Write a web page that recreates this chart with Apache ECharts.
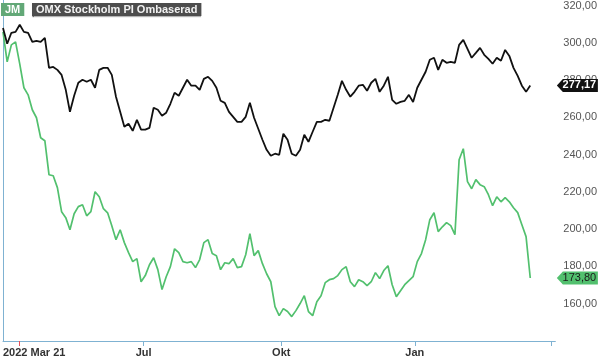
<!DOCTYPE html>
<html>
<head>
<meta charset="utf-8">
<script src="https://cdn.jsdelivr.net/npm/echarts@6/dist/echarts.min.js"></script>
<style>
  html, body { margin: 0; padding: 0; background: #fff; }
  #main { width: 600px; height: 359px; }
</style>
</head>
<body>
<div id="main"></div>
<script>
// every point is two trading days, starting 2022-03-21
var omx = [308.0, 299.5, 305.4, 305.9, 309.7, 305.9, 305.4, 300.5, 301.1, 300.5,
  302.7, 286.6, 287.1, 285.5, 282.8, 274.8, 263.0, 271.6, 278.6, 280.2,
  279.1, 280.2, 275.9, 285.5, 286.6, 286.6, 282.8, 271.1, 263.0, 255.0,
  256.6, 252.8, 258.7, 253.4, 253.4, 254.4, 265.2, 264.1, 260.9, 262.5,
  267.3, 273.2, 271.6, 275.9, 280.2, 277.0, 277.0, 274.8, 280.7, 281.8,
  279.6, 275.9, 268.9, 267.8, 263.0, 260.3, 257.6, 257.6, 260.3, 267.8,
  259.8, 253.9, 248.0, 242.6, 239.4, 240.5, 239.9, 251.2, 248.0, 240.5,
  239.4, 242.6, 250.7, 246.9, 252.3, 257.6, 257.6, 258.7, 258.2, 265.2,
  272.1, 279.6, 274.8, 271.1, 273.7, 277.0, 277.5, 274.3, 278.6, 280.7,
  273.7, 277.0, 281.8, 269.4, 267.3, 268.3, 268.9, 272.1, 268.3, 275.9,
  280.2, 284.5, 290.9, 292.0, 285.5, 290.9, 289.3, 289.8, 289.3, 298.9,
  301.6, 296.8, 292.0, 294.6, 297.3, 293.6, 291.4, 288.8, 292.0, 290.4,
  296.2, 293.0, 286.6, 282.3, 277.0, 273.7, 277.17];

var jm = [305.9, 289.8, 298.9, 300.5, 288.7, 275.9, 272.1, 264.1, 259.8, 249.1,
  247.5, 229.2, 228.7, 222.3, 209.4, 206.2, 199.7, 208.3, 212.1, 213.1,
  207.2, 209.4, 220.1, 217.4, 211.0, 208.8, 201.9, 194.4, 199.7, 192.8,
  187.4, 182.6, 184.2, 171.8, 175.1, 180.9, 184.7, 178.3, 167.6, 174.5,
  179.9, 189.5, 187.4, 182.6, 182.0, 182.6, 179.4, 183.7, 192.8, 194.4,
  186.9, 185.8, 178.3, 182.0, 181.5, 184.2, 179.4, 179.9, 186.3, 197.6,
  185.8, 188.5, 181.5, 176.1, 171.8, 158.4, 153.6, 157.4, 155.8, 153.1,
  156.3, 160.1, 164.3, 155.8, 153.6, 161.1, 164.3, 171.3, 172.9, 173.5,
  175.1, 178.3, 179.9, 171.8, 169.2, 172.9, 171.8, 169.7, 171.8, 176.7,
  173.5, 177.8, 180.4, 170.2, 163.8, 167.0, 170.2, 172.4, 174.5, 182.6,
  186.9, 194.4, 205.1, 208.8, 198.7, 201.3, 203.5, 201.9, 197.1, 237.3,
  243.2, 225.5, 221.7, 226.6, 223.9, 222.8, 218.5, 212.6, 217.4, 214.7,
  216.9, 214.7, 211.5, 208.9, 202.4, 196.0, 173.80];

// x axis ticks (in two-day steps) and their labels
var tickPos = [33.6, 66.5, 98.4, 131.1];
var labelPos = [33.6, 66.5, 98.4];
var labelText = ['Jul', 'Okt', 'Jan'];
var startLabel = '2022 Mar 21';
var startTick = [3.8];
var yLabels = [160, 180, 200, 220, 240, 260, 280, 300, 320];

var xMax = 132;

function fmt(v) {
  return v.toFixed(2).replace('.', ',');
}

function toPairs(arr) {
  var out = [];
  for (var i = 0; i < arr.length; i++) {
    out.push([i, arr[i]]);
  }
  return out;
}

// price tag on the right axis
function tag(value, bg, color, bold) {
  return {
    symbol: 'path://M0,6.5 L6,0 L41,0 L41,13 L6,13 Z',
    symbolSize: [41, 13],
    symbolOffset: [22, 0],
    silent: true,
    data: [{
      coord: [xMax, value],
      itemStyle: { color: bg },
      label: {
        show: true,
        position: 'inside',
        offset: [2, 0],
        formatter: fmt(value),
        color: color,
        fontFamily: 'Arial',
        fontSize: 11,
        fontWeight: bold ? 'bold' : 'normal'
      }
    }]
  };
}

var axisBlue = '#7fb2d2';

var chart = echarts.init(document.getElementById('main'), null, { renderer: 'canvas' });

var option = {
  animation: false,
  backgroundColor: '#fff',
  title: [
    {
      text: 'JM',
      left: 1, top: 3,
      padding: [1, 4, 1, 4],
      backgroundColor: '#62a877',
      textStyle: { color: '#fff', fontSize: 11, fontWeight: 'bold', fontFamily: 'Arial' }
    },
    {
      text: 'OMX Stockholm PI Ombaserad',
      left: 32, top: 3,
      padding: [1, 4, 1, 4],
      backgroundColor: '#4d4d4d',
      shadowColor: 'rgba(0,0,0,0.6)',
      shadowOffsetY: 1,
      shadowBlur: 1,
      textStyle: { color: '#f2f2f2', fontSize: 11, fontWeight: 'bold', fontFamily: 'Arial' }
    }
  ],
  grid: { left: 0, right: 42, top: 0, bottom: 18 },
  xAxis: [
    {
      type: 'value',
      min: 0, max: xMax,
      axisLine: { show: true, lineStyle: { color: axisBlue, width: 1 } },
      axisTick: { show: true, length: 5, customValues: tickPos, lineStyle: { color: axisBlue } },
      axisLabel: {
        customValues: labelPos,
        margin: 6,
        color: '#333',
        fontFamily: 'Arial',
        fontSize: 11,
        fontWeight: 'bold',
        formatter: function (v) {
          var i = labelPos.indexOf(v);
          return i >= 0 ? labelText[i] : '';
        }
      },
      splitLine: { show: false }
    },
    {
      type: 'value',
      position: 'bottom',
      min: 0, max: xMax,
      axisLine: { show: false },
      axisTick: { show: true, length: 5, customValues: startTick, lineStyle: { color: '#e8505b', width: 1 } },
      axisLabel: {
        customValues: [0],
        margin: 6,
        align: 'left',
        color: '#333',
        fontFamily: 'Arial',
        fontSize: 11,
        fontWeight: 'bold',
        formatter: function () { return startLabel; }
      },
      splitLine: { show: false }
    }
  ],
  yAxis: {
    type: 'value',
    position: 'right',
    min: 140, max: 323,
    axisLine: { show: true, lineStyle: { color: axisBlue, width: 1 } },
    axisTick: { show: false },
    axisLabel: {
      customValues: yLabels,
      margin: 8,
      color: '#555',
      fontFamily: 'Arial',
      fontSize: 11,
      formatter: fmt
    },
    splitLine: { show: false }
  },
  series: [
    {
      name: 'OMX Stockholm PI Ombaserad',
      type: 'line',
      data: toPairs(omx),
      showSymbol: false,
      lineStyle: { color: '#111', width: 1.8 },
      z: 3,
      markPoint: tag(omx[omx.length - 1], '#111', '#fff', true)
    },
    {
      name: 'JM',
      type: 'line',
      data: toPairs(jm),
      showSymbol: false,
      lineStyle: { color: '#52c06e', width: 1.7 },
      z: 2,
      markPoint: tag(jm[jm.length - 1], '#52c06e', '#1a1a1a', false)
    }
  ]
};

chart.setOption(option);
</script>
</body>
</html>
